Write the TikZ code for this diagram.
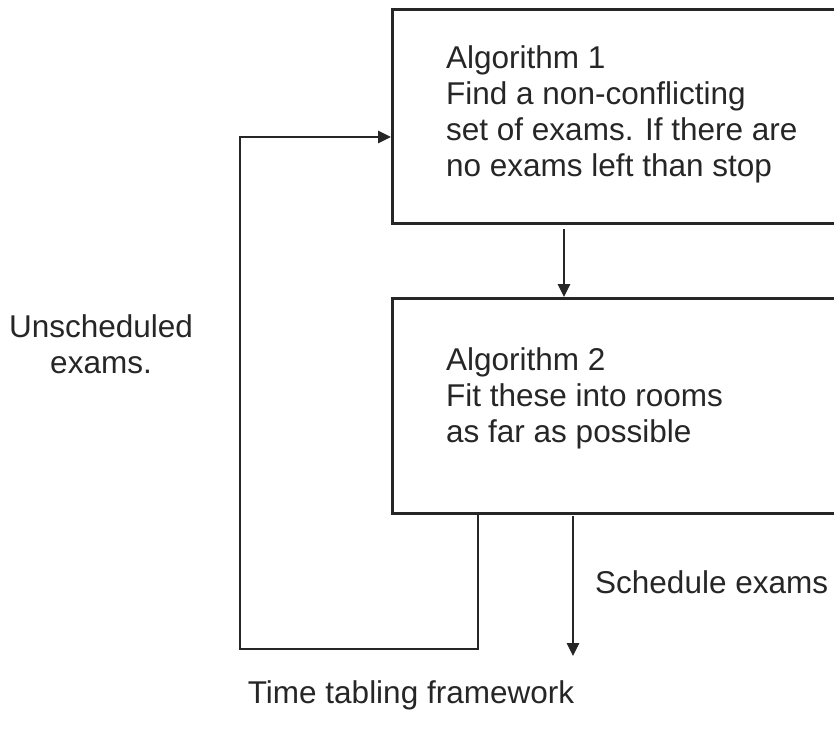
\documentclass[tikz,border=0pt]{standalone}
\usepackage{fontspec}
\setmainfont{Liberation Sans}
\usetikzlibrary{arrows.meta}
\definecolor{ink}{HTML}{262626}
\begin{document}
\begin{tikzpicture}[x=1pt,y=-1pt,
  every node/.style={inner sep=0pt, text=ink},
  txt/.style={font=\fontsize{31.5}{36}\selectfont, align=left, anchor=base west},
  box/.style={draw=ink, line width=3pt, anchor=north west},
  conn/.style={draw=ink, line width=2.8pt},
  arr/.style={conn, -{Triangle[length=13pt,width=12pt]}}]
\useasboundingbox (0,0) rectangle (834,736);
\clip (0,0) rectangle (834,736);
\node[box, minimum width=470pt, minimum height=214pt] (box1) at (391,8) {};
\node[box, minimum width=470pt, minimum height=215pt] (box2) at (391,297) {};
\node[txt] (t1) at (446,176) {Algorithm 1\\Find a non-conflicting\\set of exams. If there are\\no exams left than stop};
\node[txt] (t2) at (446,442) {Algorithm 2\\Fit these into rooms\\as far as possible};
\node[txt, align=center, anchor=base] (uns) at (101,373) {Unscheduled\\exams.};
\node[txt] (sched) at (595,593) {Schedule exams};
\node[txt, anchor=base] (cap) at (411,703) {Time tabling framework};
\coordinate (a1) at (564,229);
\draw[arr] (a1) -- (box2.north west -| a1);
\coordinate (lp) at (478,512);
\coordinate (lb) at (478,649);
\coordinate (lc) at (240,649);
\coordinate (ld) at (240,137);
\draw[conn, -{Triangle[length=13pt,width=12pt]}, line join=miter] (box2.south west -| lp) -- (lb) -- (lc) -- (ld) -- (ld -| box1.west);
\coordinate (o1) at (573,516);
\coordinate (o2) at (573,656);
\draw[arr] (o1) -- (o2);
\end{tikzpicture}
\end{document}
